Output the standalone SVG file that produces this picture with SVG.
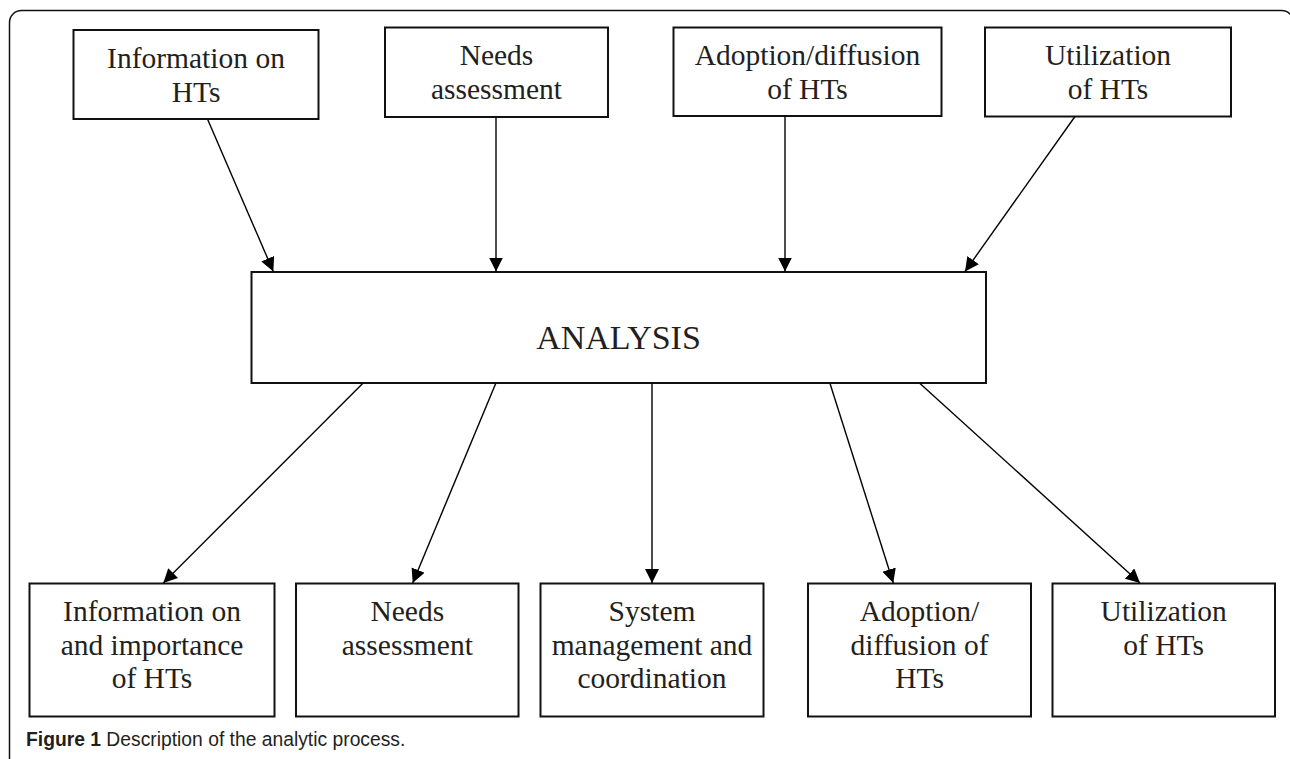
<svg xmlns="http://www.w3.org/2000/svg" width="1290" height="759" viewBox="0 0 1290 759">
<style>
.box{fill:#fff;stroke:#111;stroke-width:2}
.lbl{font-family:"Liberation Serif","Times New Roman",serif;font-size:29.5px;fill:#231f20;text-anchor:middle}
.big{font-size:34px}
.conn line{stroke:#000;stroke-width:1.4;fill:none;marker-end:url(#ah)}
.cap{font-family:"Liberation Sans",Arial,sans-serif;font-size:19.3px;fill:#231f20}
</style>
<defs>
<marker id="ah" markerUnits="userSpaceOnUse" markerWidth="15" markerHeight="15" refX="14" refY="7" orient="auto">
<path d="M0,0 L14,7 L0,14 Z" fill="#000"/>
</marker>
</defs>
<rect width="1290" height="759" fill="#fff"/>
<rect x="9.5" y="10.5" width="1284" height="800" rx="12" ry="12" fill="none" stroke="#111" stroke-width="1.5"/>

<g id="top-info">
<rect class="box" x="73.5" y="30" width="245" height="89"/>
<text class="lbl" x="196" y="68">Information on</text>
<text class="lbl" x="196" y="101.5">HTs</text>
</g>
<g id="top-needs">
<rect class="box" x="385" y="27.5" width="223" height="89.5"/>
<text class="lbl" x="496.5" y="65">Needs</text>
<text class="lbl" x="496.5" y="98.5">assessment</text>
</g>
<g id="top-adoption">
<rect class="box" x="673.5" y="27.5" width="268" height="88.5"/>
<text class="lbl" x="807.5" y="65">Adoption/diffusion</text>
<text class="lbl" x="807.5" y="98.5">of HTs</text>
</g>
<g id="top-utilization">
<rect class="box" x="985" y="27.5" width="246" height="89"/>
<text class="lbl" x="1108" y="65">Utilization</text>
<text class="lbl" x="1108" y="98.5">of HTs</text>
</g>

<g id="analysis">
<rect class="box" x="251.5" y="272" width="734.5" height="111"/>
<text class="lbl big" x="618.5" y="349">ANALYSIS</text>
</g>

<g id="bot-info">
<rect class="box" x="29.5" y="583.5" width="245" height="133"/>
<text class="lbl" x="152" y="621">Information on</text>
<text class="lbl" x="152" y="654.5">and importance</text>
<text class="lbl" x="152" y="688">of HTs</text>
</g>
<g id="bot-needs">
<rect class="box" x="296" y="583.5" width="222.5" height="133"/>
<text class="lbl" x="407.3" y="621">Needs</text>
<text class="lbl" x="407.3" y="654.5">assessment</text>
</g>
<g id="bot-system">
<rect class="box" x="540.5" y="583.5" width="223" height="133"/>
<text class="lbl" x="652" y="621">System</text>
<text class="lbl" x="652" y="654.5">management and</text>
<text class="lbl" x="652" y="688">coordination</text>
</g>
<g id="bot-adoption">
<rect class="box" x="808" y="583.5" width="223" height="133"/>
<text class="lbl" x="919.5" y="621">Adoption/</text>
<text class="lbl" x="919.5" y="654.5">diffusion of</text>
<text class="lbl" x="919.5" y="688">HTs</text>
</g>
<g id="bot-utilization">
<rect class="box" x="1052.5" y="583.5" width="222.5" height="133"/>
<text class="lbl" x="1163.7" y="621">Utilization</text>
<text class="lbl" x="1163.7" y="654.5">of HTs</text>
</g>

<g id="connectors" class="conn">
<line x1="207.7" y1="119.5" x2="273.3" y2="271.5"/>
<line x1="496" y1="117" x2="496" y2="271.5"/>
<line x1="785" y1="116" x2="785" y2="271.5"/>
<line x1="1075" y1="116.5" x2="965" y2="271.5"/>
<line x1="362.7" y1="383.5" x2="163.3" y2="583"/>
<line x1="495.7" y1="383.5" x2="412.7" y2="583"/>
<line x1="652" y1="383.5" x2="652" y2="583"/>
<line x1="830" y1="383.5" x2="893.3" y2="583"/>
<line x1="920" y1="383.5" x2="1140" y2="583"/>
</g>

<text class="cap" x="26" y="746"><tspan font-weight="bold">Figure 1</tspan> Description of the analytic process.</text>
</svg>
